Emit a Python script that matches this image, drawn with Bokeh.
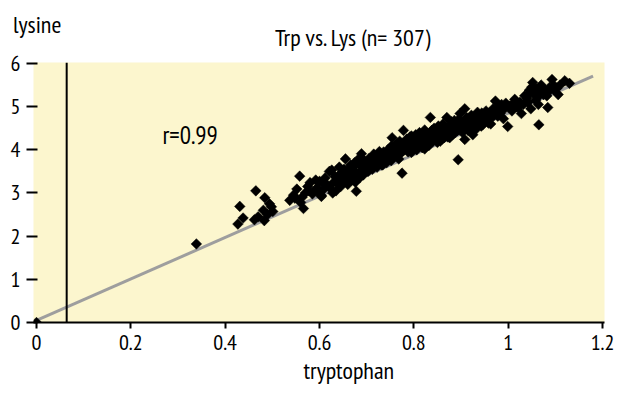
import math
from bokeh.plotting import figure
from bokeh.models import Range1d, FixedTicker, Span, Label, ColumnDataSource
from bokeh.embed import file_html
from bokeh.resources import INLINE

FONT = "PT Sans Narrow"

title_text = "Trp vs. Lys (n= 307)"
x_label = "tryptophan"
y_label = "lysine"
r_text = "r=0.99"

x_ticks = [0, 0.2, 0.4, 0.6, 0.8, 1.0, 1.2]
x_tick_labels = ["0", "0.2", "0.4", "0.6", "0.8", "1", "1.2"]
y_ticks = [0, 1, 2, 3, 4, 5, 6]

fit_x = [0.0, 1.18]
fit_y = [0.05, 5.71]
ref_x = 0.064
r_pos = (0.267, 4.35)
title_x = 0.672
xlabel_x = 0.662
ylabel_x = -0.05

trp_low = [0.000, 0.339, 0.427, 0.431, 0.438, 0.465, 0.462, 0.484, 0.494, 0.481, 0.501, 0.483, 0.498, 0.470, 0.490]
lys_low = [0.00, 1.82, 2.28, 2.69, 2.42, 3.05, 2.38, 2.89, 2.75, 2.60, 2.57, 2.36, 2.68, 2.45, 2.50]

trp_b = [0.537, 0.552, 0.558, 0.563, 0.566, 0.580, 0.590, 0.600, 0.604, 0.604, 0.545, 0.570, 0.575, 0.585, 0.595, 0.560, 0.548, 0.592, 0.578, 0.598]
lys_b = [2.83, 3.09, 3.39, 2.90, 2.64, 3.24, 3.05, 3.27, 2.94, 2.92, 2.95, 3.00, 3.15, 2.98, 3.12, 2.78, 2.88, 3.30, 3.05, 3.02]

trp_c = [0.610, 0.615, 0.621, 0.621, 0.626, 0.630, 0.635, 0.638, 0.640, 0.645, 0.650, 0.655, 0.655, 0.660, 0.662, 0.665, 0.668, 0.670, 0.672, 0.675, 0.678, 0.680, 0.682, 0.685, 0.688, 0.689, 0.690, 0.693, 0.695, 0.698, 0.700, 0.612, 0.628, 0.642, 0.648, 0.658, 0.666, 0.676, 0.684, 0.696]
lys_c = [3.10, 3.20, 3.50, 3.13, 3.53, 3.25, 3.05, 3.24, 3.40, 3.15, 3.30, 3.79, 3.45, 3.20, 3.55, 3.42, 3.30, 3.60, 3.38, 3.50, 3.04, 3.70, 3.45, 3.35, 3.62, 3.91, 3.52, 3.42, 3.75, 3.58, 3.65, 3.35, 3.00, 3.60, 3.48, 3.35, 3.65, 3.25, 3.80, 3.48]

trp_d = [0.703, 0.705, 0.708, 0.710, 0.712, 0.715, 0.718, 0.720, 0.722, 0.725, 0.727, 0.728, 0.730, 0.732, 0.734, 0.734, 0.736, 0.738, 0.740, 0.742, 0.745, 0.748, 0.750, 0.752, 0.754, 0.756, 0.758, 0.760, 0.761, 0.763, 0.765, 0.768, 0.768, 0.770, 0.772, 0.775, 0.775, 0.778, 0.778, 0.780, 0.782, 0.785, 0.788, 0.790, 0.792, 0.795, 0.795, 0.798, 0.800, 0.706, 0.716, 0.724, 0.744, 0.757, 0.766, 0.784, 0.796]
lys_d = [3.50, 3.80, 3.62, 3.70, 3.55, 3.90, 3.68, 3.78, 3.60, 3.85, 3.96, 3.70, 3.82, 3.65, 3.79, 3.65, 3.95, 3.75, 3.88, 3.70, 4.00, 3.82, 3.92, 3.75, 4.28, 3.98, 3.85, 4.10, 4.02, 3.90, 4.15, 3.79, 4.00, 4.20, 3.92, 3.46, 4.08, 4.45, 3.98, 4.15, 4.02, 4.25, 3.95, 4.10, 4.30, 4.32, 3.94, 4.18, 4.05, 3.58, 3.74, 3.88, 3.80, 4.05, 3.86, 4.10, 4.22]

trp_e = [0.802, 0.804, 0.806, 0.808, 0.810, 0.812, 0.815, 0.818, 0.820, 0.823, 0.823, 0.825, 0.828, 0.830, 0.832, 0.835, 0.836, 0.838, 0.840, 0.843, 0.845, 0.848, 0.850, 0.852, 0.855, 0.858, 0.860, 0.862, 0.865, 0.868, 0.870, 0.870, 0.872, 0.875, 0.878, 0.880, 0.882, 0.885, 0.888, 0.890, 0.891, 0.893, 0.894, 0.895, 0.898, 0.898, 0.900, 0.814, 0.826, 0.842, 0.856, 0.866, 0.876, 0.886]
lys_e = [4.17, 4.35, 4.00, 4.25, 4.10, 4.40, 4.20, 4.05, 4.30, 4.46, 4.02, 4.15, 4.35, 4.22, 4.10, 4.75, 4.32, 4.45, 4.20, 4.50, 4.28, 4.38, 4.17, 4.55, 4.30, 4.42, 4.25, 4.60, 4.35, 4.48, 4.75, 4.39, 4.30, 4.55, 4.42, 4.65, 4.35, 4.50, 4.40, 4.62, 4.58, 4.45, 3.77, 4.70, 4.84, 4.48, 4.55, 4.28, 4.08, 4.38, 4.20, 4.52, 4.28, 4.68]

trp_f = [0.903, 0.905, 0.908, 0.908, 0.910, 0.912, 0.915, 0.918, 0.920, 0.922, 0.925, 0.928, 0.930, 0.932, 0.935, 0.938, 0.940, 0.943, 0.946, 0.948, 0.950, 0.953, 0.955, 0.958, 0.959, 0.962, 0.965, 0.968, 0.970, 0.973, 0.973, 0.976, 0.980, 0.983, 0.986, 0.990, 0.992, 0.995, 0.999, 0.916, 0.926, 0.944, 0.963, 0.978]
lys_f = [4.40, 4.65, 4.95, 4.24, 4.50, 4.75, 4.45, 4.50, 4.62, 4.80, 4.35, 4.58, 4.70, 4.48, 4.87, 4.60, 4.72, 4.55, 4.58, 4.80, 4.65, 4.90, 4.70, 4.62, 4.72, 4.85, 4.75, 4.95, 4.80, 5.13, 4.87, 4.90, 5.00, 4.85, 5.05, 4.72, 4.95, 5.08, 4.54, 4.68, 4.52, 4.85, 4.60, 4.78]

trp_g = [1.004, 1.008, 1.014, 1.018, 1.021, 1.025, 1.028, 1.032, 1.040, 1.045, 1.048, 1.048, 1.050, 1.052, 1.055, 1.058, 1.060, 1.062, 1.065, 1.068, 1.070, 1.072, 1.075, 1.078, 1.082, 1.084, 1.088, 1.093, 1.098, 1.103, 1.106, 1.110, 1.120, 1.130, 1.035, 1.064]
lys_g = [5.02, 4.90, 5.17, 5.00, 4.99, 5.10, 4.84, 5.05, 5.20, 5.38, 5.33, 4.95, 5.45, 5.56, 5.30, 5.15, 5.40, 5.21, 4.58, 5.35, 5.50, 5.45, 5.28, 5.38, 5.25, 4.98, 5.45, 5.63, 5.48, 5.43, 5.28, 5.50, 5.60, 5.54, 5.25, 5.05]

trp_h = [0.612, 0.633, 0.652, 0.664, 0.674, 0.692, 0.702, 0.714, 0.726, 0.738, 0.746, 0.752, 0.762, 0.774, 0.786, 0.794, 0.806, 0.816, 0.834, 0.846, 0.854, 0.864, 0.874, 0.884, 0.896, 0.904, 0.914, 0.924, 0.934, 0.952, 0.966, 0.984, 1.012, 1.042, 1.056, 1.086, 1.096]
lys_h = [3.18, 3.38, 3.55, 3.50, 3.70, 3.68, 3.72, 3.62, 3.75, 3.90, 3.92, 4.08, 3.95, 4.12, 4.00, 4.05, 4.20, 4.35, 4.25, 4.45, 4.40, 4.28, 4.45, 4.58, 4.60, 4.55, 4.58, 4.70, 4.62, 4.78, 4.85, 4.95, 5.08, 5.10, 5.42, 5.35, 5.40]

trp = trp_low + trp_b + trp_c + trp_d + trp_e + trp_f + trp_g + trp_h
lys = lys_low + lys_b + lys_c + lys_d + lys_e + lys_f + lys_g + lys_h
assert len(trp) == len(lys), (len(trp), len(lys))

# layout (figure pixels)
W, H = 616, 385
FL, FR, FT, FB = 33, 604, 60, 322
x0_px, x12_px = 36, 602
ppu_x = (x12_px - x0_px) / 1.2
x_start = -(x0_px - FL) / ppu_x
x_end = 1.2 + (FR - x12_px) / ppu_x
ppu_y = (FB - (FT + 1)) / 6.0
y_end = 6.0 + 1 / ppu_y

p = figure(width=W, height=H, output_backend="svg", toolbar_location=None, title=None,
           x_range=Range1d(x_start, x_end), y_range=Range1d(0, y_end),
           min_border_left=FL, min_border_right=W - FR,
           min_border_top=FT, min_border_bottom=H - FB)
p.background_fill_color = "#FCF6CE"
p.border_fill_color = "white"
p.outline_line_color = None
p.grid.visible = False

xa = p.xaxis[0]
xa.ticker = FixedTicker(ticks=x_ticks)
xa.major_label_overrides = {t: s for t, s in zip(x_ticks, x_tick_labels)}
xa.axis_line_color = "black"
xa.axis_line_width = 2
xa.major_tick_line_width = 2
xa.major_tick_out = 6
xa.major_tick_in = 0
xa.minor_tick_line_color = None
xa.major_label_standoff = 6
xa.major_label_text_font = FONT
xa.major_label_text_font_size = "22px"
xa.major_label_text_color = "black"

ya = p.yaxis[0]
ya.ticker = FixedTicker(ticks=y_ticks)
ya.axis_line_color = None
ya.major_tick_line_width = 2
ya.major_tick_out = 7
ya.major_tick_in = 4
ya.minor_tick_line_color = None
ya.major_label_standoff = 6
ya.major_label_text_font = FONT
ya.major_label_text_font_size = "22px"
ya.major_label_text_color = "black"

p.add_layout(Span(location=ref_x, dimension="height", line_color="black", line_width=2))
p.line(fit_x, fit_y, line_color="#9E9E9E", line_width=3)

src = ColumnDataSource(dict(x=trp, y=lys))
p.scatter("x", "y", source=src, marker="square", angle=math.pi / 4, size=7.5,
          fill_color="black", line_color="black", line_width=0.5)

p.add_layout(Label(x=r_pos[0], y=r_pos[1], text=r_text, text_font=FONT,
                   text_font_size="25px", text_baseline="alphabetic", text_color="black"))

p.add_layout(Label(x=title_x, y=10, x_units="data", y_units="screen", text=title_text,
                   text_font=FONT, text_font_size="24px", text_align="center",
                   text_color="black"), "above")
p.add_layout(Label(x=ylabel_x, y=-8, x_units="data", y_units="screen", text=y_label,
                   text_font=FONT, text_font_size="24px", text_align="left",
                   text_color="black"), "above")
p.add_layout(Label(x=xlabel_x, y=-2, x_units="data", y_units="screen", text=x_label,
                   text_font=FONT, text_font_size="24px", text_align="center",
                   text_color="black"), "below")

open("out.html", "w").write(file_html(p, INLINE))
